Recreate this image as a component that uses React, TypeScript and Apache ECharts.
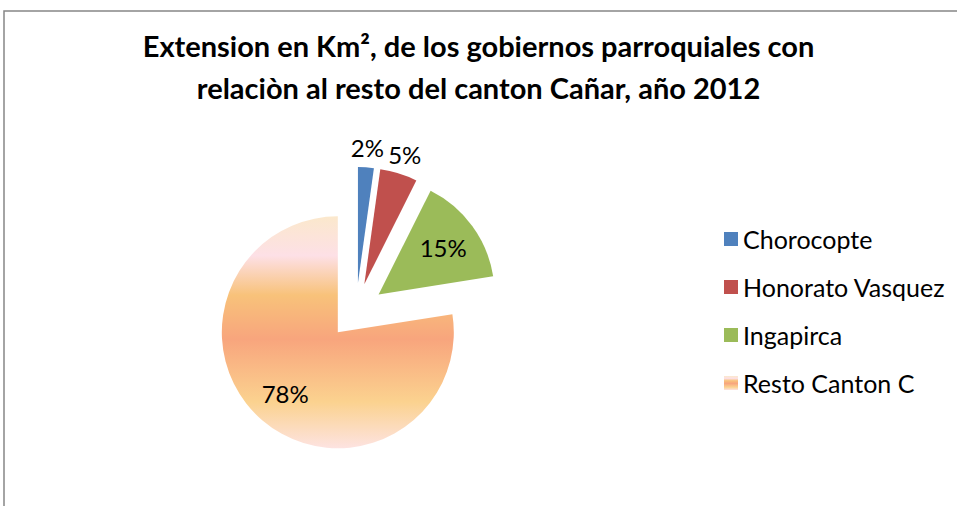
import React, { useEffect, useRef } from "react";
import * as echarts from "echarts";

const titleText = "Extension en Km², de los gobiernos parroquiales con\nrelaciòn al resto del canton Cañar, año 2012";
const categories = ["Chorocopte", "Honorato Vasquez", "Ingapirca", "Resto Canton C"];
const shares = [2.2, 5.2, 15.1, 77.5];

const sliceColors: any[] = [
  "#4f81bd",
  "#c0504d",
  "#9bbb59",
  new echarts.graphic.LinearGradient(0, 0, 0, 1, [
    { offset: 0, color: "#fbe8cc" },
    { offset: 0.17, color: "#fde0e6" },
    { offset: 0.34, color: "#f8c27a" },
    { offset: 0.53, color: "#f8a57d" },
    { offset: 0.8, color: "#fbd28f" },
    { offset: 1, color: "#fde3e1" },
  ]),
];
const labelLen = [20, 20, -36, -35];

export default function App() {
  const ref = useRef<HTMLDivElement>(null);
  useEffect(() => {
    if (!ref.current) return;
    const chart = echarts.init(ref.current, null, { renderer: "svg" });
    const font = "Lato, 'Noto Sans', sans-serif";
    chart.setOption({
      animation: false,
      backgroundColor: "#ffffff",
      title: {
        text: titleText,
        left: "center",
        top: 19,
        textStyle: {
          fontFamily: font,
          fontWeight: "bold",
          fontSize: 29,
          lineHeight: 42,
          color: "#000000",
        },
      },
      graphic: [
        {
          type: "rect",
          shape: { x: 4, y: 11, width: 1000, height: 600 },
          style: { fill: "none", stroke: "#868686", lineWidth: 1.5 },
          silent: true,
        },
      ],
      legend: {
        orient: "vertical",
        left: 719,
        top: 221,
        itemWidth: 14,
        itemHeight: 14,
        itemGap: 22,
        selectedMode: false,
        icon: "rect",
        textStyle: {
          fontFamily: font,
          fontSize: 25,
          lineHeight: 26,
          color: "#000000",
        },
        data: categories,
      },
      series: [
        {
          type: "pie",
          center: [356, 311],
          radius: 116,
          startAngle: 90,
          clockwise: true,
          selectedMode: "multiple",
          selectedOffset: 28,
          avoidLabelOverlap: false,
          emphasis: { disabled: true },
          select: { itemStyle: { borderWidth: 0 } },
          label: {
            show: true,
            position: "outside",
            formatter: (p: any) => Math.round(p.percent) + "%",
            fontFamily: font,
            fontSize: 24,
            color: "#000000",
            distanceToLabelLine: 0,
          },
          labelLine: { show: false, length2: 0 },
          labelLayout: { align: "center", verticalAlign: "middle", hideOverlap: false, moveOverlap: null },
          data: categories.map((name, i) => ({
            name,
            value: shares[i],
            selected: true,
            itemStyle: { color: sliceColors[i] },
            labelLine: { show: false, length: labelLen[i], length2: 0 },
          })),
        },
      ],
    });
    return () => chart.dispose();
  }, []);
  return (
    <div
      ref={ref}
      style={{ position: "fixed", left: 0, top: 0, width: 957, height: 506 }}
    />
  );
}
